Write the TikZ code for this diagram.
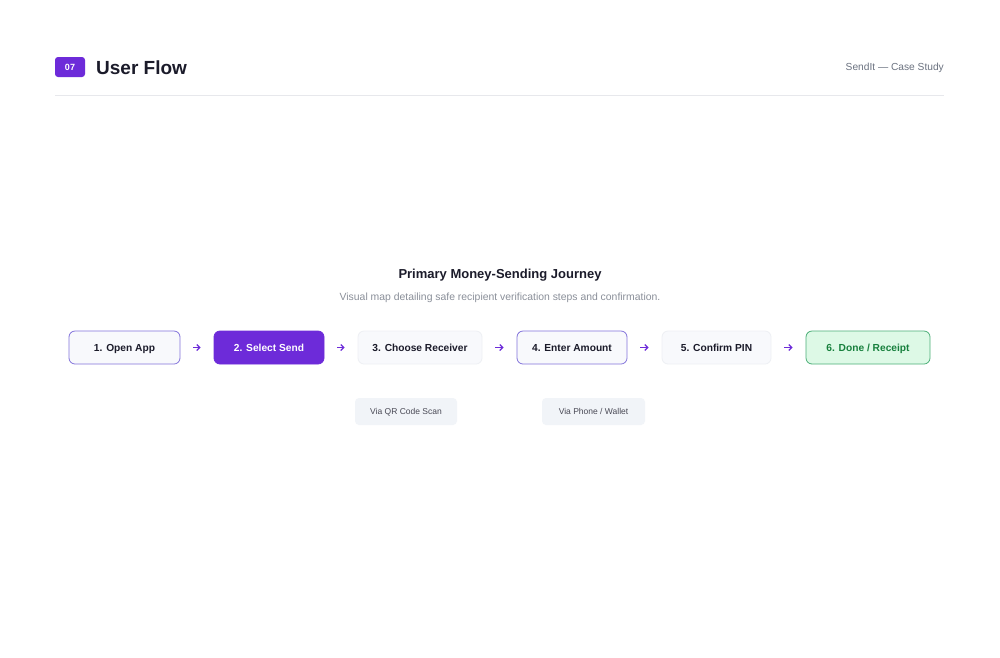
\documentclass[tikz,border=0pt]{standalone}
\usepackage{fontspec}
\setmainfont{Liberation Sans}
\usetikzlibrary{arrows.meta}
\definecolor{brand}{HTML}{6D2BD9}
\definecolor{ink}{HTML}{1B1B2A}
\definecolor{muted}{HTML}{6B7280}
\definecolor{faint}{HTML}{8A8F99}
\definecolor{rule}{HTML}{E7E8EC}
\definecolor{lightfill}{HTML}{F8F9FC}
\definecolor{lightline}{HTML}{EEF0F4}
\definecolor{purpleline}{HTML}{8273DB}
\definecolor{greenfill}{HTML}{DDF9E6}
\definecolor{greenline}{HTML}{4CAF78}
\definecolor{greentext}{HTML}{17803D}
\definecolor{subfill}{HTML}{F1F4F8}
\begin{document}
\begin{tikzpicture}[x=1pt,y=-1pt,
  stepbox/.style={rounded corners=6pt, minimum height=33pt, inner sep=0pt, text height=7.2pt, text depth=0pt, font=\fontsize{10.2}{12}\selectfont\bfseries, text=ink, line width=0.8pt},
  outlined/.style={stepbox, draw=purpleline, fill=lightfill},
  plain/.style={stepbox, draw=lightline, fill=lightfill},
  active/.style={stepbox, draw=brand, fill=brand, text=white},
  done/.style={stepbox, draw=greenline, fill=greenfill, text=greentext},
  subbox/.style={rounded corners=4pt, minimum height=27pt, minimum width=102pt, inner sep=0pt, text height=6.1pt, text depth=0pt, fill=subfill, draw=none, font=\fontsize{8.5}{10}\selectfont, text=ink!80},
  flow/.style={draw=brand, line width=1.2pt, -{Straight Barb[length=3pt,width=6pt]}, shorten <=13pt, shorten >=13pt}
]
\useasboundingbox (0,0) rectangle (1000,657);
\fill[white] (0,0) rectangle (1000,657);

% header
\node[fill=brand, rounded corners=3pt, minimum width=30pt, minimum height=20pt, inner sep=0pt, text height=6.5pt, text depth=0pt, text=white, font=\fontsize{9}{10}\selectfont\bfseries] (badge) at (70,67) {07};
\node[anchor=west, inner sep=0pt, text=ink, font=\fontsize{19}{22}\selectfont\bfseries] (title) at (96,68) {User Flow};
\node[anchor=east, inner sep=0pt, text=muted, font=\fontsize{10.2}{12}\selectfont] (brandname) at (944,68) {SendIt — Case Study};
\draw[rule, line width=0.8pt] (55,95.5) -- (944,95.5);

% section title
\node[inner sep=0pt, text=ink, font=\fontsize{13}{15}\selectfont\bfseries] (sectitle) at (500,275) {Primary Money-Sending Journey};
\node[inner sep=0pt, text=faint, font=\fontsize{10.4}{12}\selectfont] (subtitle) at (500,297.5) {Visual map detailing safe recipient verification steps and confirmation.};

% steps
\node[outlined, minimum width=111pt] (s1) at (124.5,347.5) {1. Open App};
\node[active, minimum width=110pt] (s2) at (269,347.5) {2. Select Send};
\node[plain, minimum width=124pt] (s3) at (420,347.5) {3. Choose Receiver};
\node[outlined, minimum width=110pt] (s4) at (572,347.5) {4. Enter Amount};
\node[plain, minimum width=109pt] (s5) at (716.5,347.5) {5. Confirm PIN};
\node[done, minimum width=124pt] (s6) at (868,347.5) {6. Done / Receipt};

\draw[flow] (s1) -- (s2);
\draw[flow] (s2) -- (s3);
\draw[flow] (s3) -- (s4);
\draw[flow] (s4) -- (s5);
\draw[flow] (s5) -- (s6);

% alternatives
\node[subbox] (q1) at (406,411.5) {Via QR Code Scan};
\node[subbox, minimum width=103pt] (q2) at (593.5,411.5) {Via Phone / Wallet};
\end{tikzpicture}
\end{document}
